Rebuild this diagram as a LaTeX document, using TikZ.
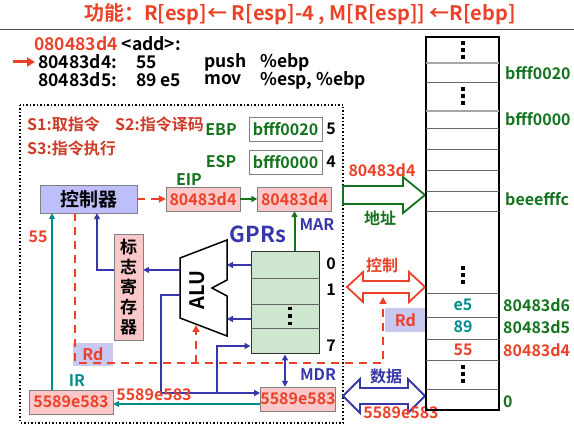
\documentclass[tikz,border=0pt]{standalone}
\usepackage{fontspec}
\setmainfont{Noto Sans CJK SC}[BoldFont={Noto Sans CJK SC Bold}]
\usetikzlibrary{arrows.meta}
\definecolor{myred}{RGB}{235,65,40}
\definecolor{stred}{RGB}{205,60,40}
\definecolor{mygreen}{RGB}{20,115,30}
\definecolor{myblue}{RGB}{55,55,170}
\definecolor{myteal}{RGB}{0,140,140}
\definecolor{regpink}{RGB}{250,200,200}
\definecolor{ctrlblue}{RGB}{190,190,250}
\definecolor{gprgreen}{RGB}{205,230,205}
\definecolor{rdbg}{RGB}{200,200,240}
\newcommand{\fsz}[1]{\fontsize{#1}{#1}\selectfont}

\begin{document}
\begin{tikzpicture}[x=1pt, y=-1pt, font=\bfseries\fsz{16}, inner sep=0pt, reg/.style={draw=gray, fill=regpink, minimum width=74pt, minimum height=24pt, text=myred}, val/.style={draw=gray, fill=white, minimum width=73pt, minimum height=24pt, text=mygreen}, code/.style={anchor=west, font=\bfseries\fsz{17.5}}, stage/.style={anchor=west, text=stred}, grn/.style={draw=mygreen, line width=2pt, -{Triangle[length=6pt,width=6pt]}}, blu/.style={draw=myblue, line width=2pt, -{Triangle[length=6pt,width=6pt]}}, tea/.style={draw=myteal, line width=2pt, -{Triangle[length=6pt,width=6pt]}}, ctl/.style={draw=myred, line width=2.5pt, dash pattern=on 8pt off 6pt, -{Triangle[length=7pt,width=7pt]}}, bus/.style={line width=1.8pt, fill=white, line join=miter}, rdlab/.style={fill=rdbg, text=myred, minimum width=40pt, minimum height=23pt}, memtext/.style={anchor=west, text=mygreen}]
\useasboundingbox (0,0) rectangle (574,427);
% title and listing
\node[text=myred, font=\bfseries\fsz{20}] (title) at (300,14) {功能：R[esp]← R[esp]-4 , M[R[esp]] ←R[ebp]};
\draw[black!70, line width=0.8pt] (0,29) -- (574,29);
\node[code] (addr) at (34,44) {\textcolor{myred}{080483d4} <add>:};
\node[code] (l1a) at (38,62) {80483d4:}; \node[code] (l1b) at (136,62) {55}; \node[code] (l1c) at (204,62) {push}; \node[code] (l1d) at (260,62) {\%ebp};
\node[code] (l2a) at (38,80) {80483d5:}; \node[code] (l2b) at (136,80) {89 e5}; \node[code] (l2c) at (204,80) {mov}; \node[code] (l2d) at (260,80) {\%esp, \%ebp};
\coordinate (cur) at (13,62); \draw[myred, line width=3pt, -{Triangle[length=8pt,width=9pt]}] (cur) -- ([xshift=-3pt]l1a.west);
% CPU
\draw[line width=1.5pt, dash pattern=on 1.5pt off 2pt] (20,105) rectangle (343,423);
\node[stage] (s1) at (27,124) {S1:取指令}; \node[stage] (s2) at (115,124) {S2:指令译码}; \node[stage] (s3) at (27,148) {S3:指令执行};
\node[val] (ebp) at (285.5,129) {bfff0020}; \node[text=mygreen] (ebplab) at (221,130) {EBP}; \node (ebpno) at (331,129) {5};
\node[val] (esp) at (285.5,162) {bfff0000}; \node[text=mygreen] (esplab) at (221,162) {ESP}; \node (espno) at (331,162) {4};
\node[draw=gray, fill=ctrlblue, minimum width=97pt, minimum height=28pt, font=\bfseries\fsz{19}] (ctrl) at (88.5,199) {控制器};
\node[reg] (eip) at (203,199) {80483d4}; \node[text=mygreen] (eiplab) at (189,180) {EIP};
\node[reg] (mar) at (294.5,199) {80483d4}; \node[text=myblue] (marlab) at (317,225) {MAR};
\draw[ctl] (ctrl) -- (eip); \draw[grn] (eip) -- (mar);
\node[text=myblue, font=\bfseries\fsz{22}] (gprlab) at (258,234) {GPRs};
\node[draw=black!80, line width=1pt, fill=gprgreen, minimum width=68pt, minimum height=102pt] (gpr) at (285,303) {};
\foreach \y in {278,304,328} \draw[black!60] (gpr.west |- 0,\y) -- (gpr.east |- 0,\y);
\foreach \d in {-7.5,0,7.5} \fill (288.25,316+\d-1.75) rectangle +(3.5,3.5);
\node (g0) at (331,264) {0}; \node (g1) at (331,290) {1}; \node (g7) at (331,346) {7};
\draw[grn] (gpr.north -| mar.south) -- (mar.south);
\draw[line width=1.5pt, fill=white] (180,258) -- (227,240) -- (227,280) -- (212,288) -- (227,296) -- (227,336) -- (180,318) -- cycle;
\node[rotate=90, font=\bfseries\fsz{20}] (alu) at (197,290) {ALU};
\coordinate (aluin1) at (227,265); \coordinate (aluin2) at (227,319); \coordinate (aluout1) at (180,270); \coordinate (aluout2) at (180,295); \coordinate (alubot) at (196,325);
\draw[blu] (gpr.west |- aluin1) -- (aluin1); \draw[blu] (gpr.west |- aluin2) -- (aluin2);
\node[draw=gray, fill=regpink, minimum width=29pt, minimum height=106pt, align=center, font=\bfseries\fsz{17}] (flag) at (128.5,287) {标\\[3pt]志\\[3pt]寄\\[3pt]存\\[3pt]器};
\draw[blu] (aluout1) -- (aluout1 -| flag.east); \draw[blu] (flag.west |- aluout1) -| ([xshift=8.5pt]ctrl.south);
\node[reg, minimum width=84pt] (ir) at (71,402) {5589e583}; \node[text=myteal] (irlab) at (77,381) {IR};
\node[reg] (mdr) at (298,399) {5589e583}; \node[text=myblue] (mdrlab) at (318,375) {MDR};
\draw[tea] ([xshift=-19pt]ir.north) -- ([xshift=-36.5pt]ctrl.south); \node[text=myred] (n55) at (38,237) {55};
\draw[tea] ([yshift=-5pt]mdr.west) -- ([yshift=-5pt]mdr.west -| ir.east);
\coordinate (busa) at (161,393); \coordinate (busb) at (217,393);
\draw[blu] (aluout2) -| (busa) -- (busa -| mdr.west); \draw[blu] (busb) |- ([yshift=-43pt]gpr.west);
\draw[blu, {Triangle[length=6pt,width=6pt]}-{Triangle[length=6pt,width=6pt]}] (gpr.south) -- (gpr.south |- mdr.north);
\node[text=myred] (irval) at (154,395) {5589e583};
\node[rdlab] (rd1) at (93,354.5) {Rd}; \node[rdlab, minimum width=41pt, minimum height=24pt] (rd2) at (405.5,320) {Rd};
\coordinate (rdjoin) at (383,363); \coordinate (cbfoot) at (383,297); \coordinate (alujoin) at (196,363);
\draw[ctl] ([xshift=-13.5pt]ctrl.south) |- (rdjoin) -- (cbfoot); \draw[ctl] (alujoin) -- (alubot);
% buses
\draw[bus, draw=mygreen] (343,186) -- (403,186) -- (403,177) -- (425,195) -- (403,213) -- (403,204) -- (343,204) -- cycle;
\node[text=myred] (abval) at (382,170) {80483d4}; \node[text=mygreen] (ablab) at (380,218) {地址};
\draw[bus, draw=myred] (347,287) -- (363,272) -- (363,281) -- (409,281) -- (409,272) -- (425,287) -- (409,302) -- (409,293) -- (363,293) -- (363,302) -- cycle;
\node[text=myred] (cblab) at (382,265) {控制};
\draw[bus, draw=myblue] (343,396) -- (360,379) -- (360,388) -- (408,388) -- (408,379) -- (425,396) -- (408,413) -- (408,404) -- (360,404) -- (360,413) -- cycle;
\node[text=myblue] (dblab) at (386,376) {数据}; \node[text=myred] (dbval) at (401,413) {5589e583};
% memory
\draw[line width=1.5pt] (426,37) rectangle (499,410);
\foreach \y in {82,128,149,170,191,211,293,317,339,360,389} \draw[black!60] (426,\y) -- (499,\y);
\foreach \y in {63,111} \draw[black!35, line width=1.2pt] (426,\y) -- (499,\y);
\foreach \c in {50,96,275,374} \foreach \d in {-7,0,7} \fill (461,\c+\d-1.75) rectangle +(3.5,3.5);
\node[memtext] (m1) at (505,73) {bfff0020}; \node[memtext] (m2) at (505,119) {bfff0000}; \node[memtext] (m3) at (505,199) {beeefffc};
\node[text=myteal] (c1) at (463,305) {e5}; \node[text=myteal] (c2) at (463,327) {89}; \node[text=myred] (c3) at (463,350) {55};
\node[memtext] (m4) at (503,305) {80483d6}; \node[memtext] (m5) at (503,327) {80483d5}; \node[memtext, text=myred] (m6) at (503,350) {80483d4}; \node[memtext] (m7) at (503,402) {0};
\end{tikzpicture}
\end{document}
